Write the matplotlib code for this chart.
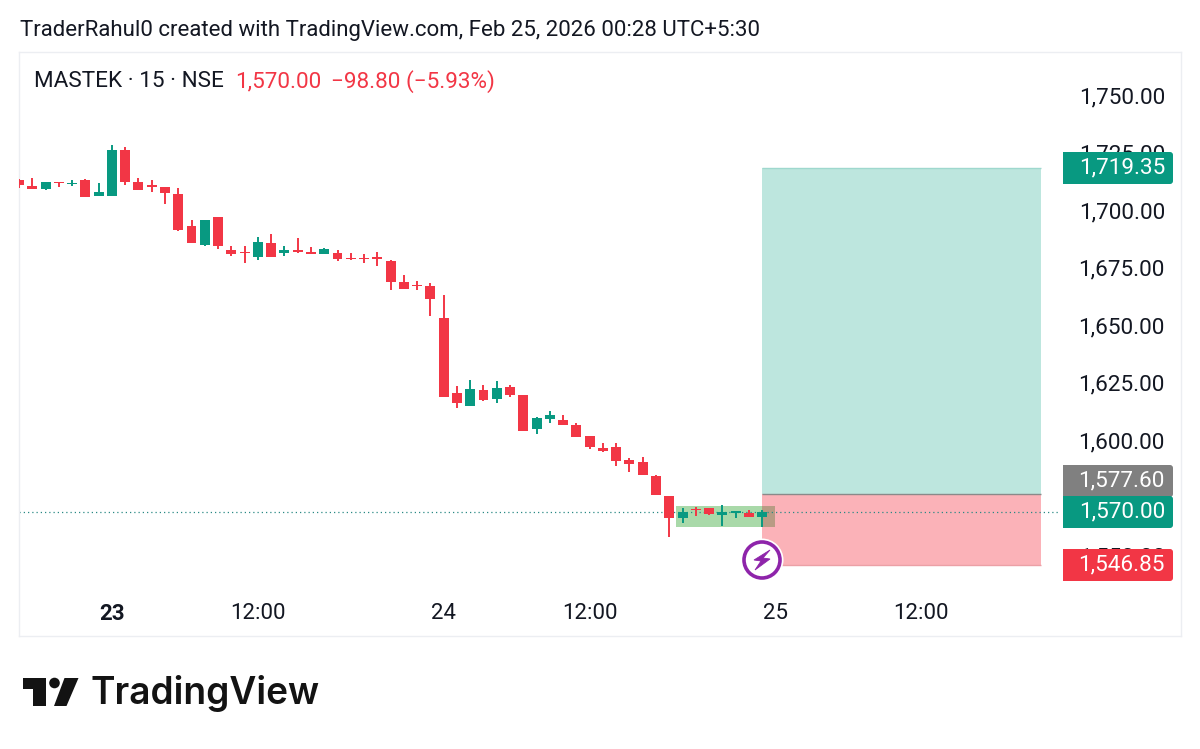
import matplotlib
matplotlib.use("Agg")
import matplotlib.pyplot as plt
from matplotlib.patches import Rectangle, FancyBboxPatch, Polygon, Circle

plt.rcParams['font.family'] = ['Roboto', 'DejaVu Sans']

# candles, index 0 is the first bar of the 23rd
bar_idx = list(range(-7, 50))
opens = [1714.0, 1711.4, 1710.4, 1713.5, 1712.3, 1714.0, 1707.1, 1707.1, 1727.1, 1713.5,
         1711.9, 1711.2, 1708.1, 1694.3, 1685.8, 1698.1, 1683.9, 1682.7, 1680.9, 1687.0,
         1682.3, 1683.9, 1683.0, 1682.2, 1682.6, 1680.4, 1680.4, 1680.6, 1679.0, 1670.0,
         1668.6, 1668.0, 1654.2, 1621.7, 1616.1, 1623.0, 1619.0, 1624.3, 1620.6, 1606.1,
         1610.4, 1610.0, 1607.8, 1602.9, 1597.8, 1598.1, 1592.6, 1591.6, 1585.8, 1577.1,
         1567.4, 1571.4, 1571.7, 1568.6, 1569.7, 1569.3, 1567.7]
highs = [1714.7, 1714.9, 1713.2, 1713.5, 1714.0, 1714.5, 1713.0, 1729.3, 1728.6, 1715.2,
         1714.2, 1711.2, 1710.9, 1696.7, 1697.0, 1698.1, 1685.5, 1685.5, 1689.4, 1690.7,
         1685.3, 1688.8, 1685.1, 1684.7, 1683.6, 1682.6, 1682.2, 1682.9, 1679.4, 1672.7,
         1670.1, 1669.4, 1664.3, 1624.8, 1627.1, 1625.2, 1626.8, 1625.2, 1620.6, 1611.2,
         1613.8, 1612.0, 1608.6, 1602.9, 1600.1, 1600.1, 1593.2, 1593.8, 1586.1, 1577.1,
         1571.7, 1572.2, 1571.7, 1573.0, 1570.3, 1570.7, 1570.9]
lows = [1710.9, 1710.4, 1710.0, 1711.0, 1711.6, 1706.8, 1707.1, 1707.1, 1712.0, 1709.9,
        1708.8, 1703.6, 1691.9, 1686.7, 1685.5, 1684.0, 1681.3, 1678.1, 1679.3, 1680.9,
        1681.3, 1682.5, 1682.2, 1681.9, 1679.1, 1679.3, 1678.0, 1677.0, 1666.2, 1666.7,
        1666.2, 1655.1, 1619.9, 1615.1, 1616.1, 1618.0, 1617.3, 1620.1, 1605.2, 1603.9,
        1608.8, 1607.7, 1602.7, 1597.3, 1596.2, 1589.9, 1587.3, 1586.2, 1577.3, 1559.3,
        1565.1, 1568.3, 1568.7, 1563.9, 1567.4, 1567.7, 1563.6]
closes = [1712.2, 1710.4, 1713.2, 1713.0, 1713.0, 1706.8, 1709.1, 1727.4, 1713.5, 1709.9,
          1711.3, 1708.6, 1692.5, 1686.7, 1696.7, 1685.3, 1682.2, 1682.3, 1687.3, 1680.9,
          1683.9, 1682.7, 1682.2, 1684.2, 1680.0, 1680.0, 1679.9, 1680.0, 1669.9, 1666.7,
          1668.0, 1662.6, 1619.9, 1617.4, 1623.3, 1618.7, 1623.9, 1620.7, 1605.2, 1610.7,
          1612.2, 1607.7, 1602.7, 1598.4, 1596.5, 1592.2, 1590.6, 1586.2, 1577.3, 1567.4,
          1570.0, 1570.9, 1569.1, 1570.1, 1570.3, 1567.7, 1570.1]

y_ticks = [1750, 1725, 1700, 1675, 1650, 1625, 1600, 1575, 1550]
x_tick_pos = [0, 11, 25, 36, 50, 61]
x_tick_labels = ['23', '12:00', '24', '12:00', '25', '12:00']

last_price = 1570.00
target_price = 1719.35
entry_price = 1577.60
stop_price = 1546.85
box_start, box_end = 49, 70
zone_start, zone_end = 42.5, 50
zone_top, zone_bottom = 1572.6, 1563.5

RED = '#f23645'
GREEN = '#089981'
DARK = '#131722'

fig = plt.figure(figsize=(12, 7.49), dpi=100, facecolor='white')
W, H = 1200, 749

# chart panel
ax = fig.add_axes([19 / W, 1 - 635.5 / H, 1162 / W, 584 / H])
ax.set_xlim(-7.0, 80.56)
ax.set_ylim(1516.3, 1770)
for s in ax.spines.values():
    s.set_color('#eceef2')
    s.set_linewidth(1)
ax.set_yticks([])
ax.set_xticks(x_tick_pos)
ax.set_xticklabels(x_tick_labels)
ax.tick_params(axis='x', length=0, direction='in', pad=-23.6, labelsize=16, labelcolor=DARK)
ax.get_xticklabels()[0].set_fontweight('bold')

# long position boxes
ax.add_patch(Rectangle((box_start, entry_price), box_end - box_start, target_price - entry_price,
                       fc='#bde6de', ec='none', zorder=1))
ax.add_patch(Rectangle((box_start, stop_price), box_end - box_start, entry_price - stop_price,
                       fc='#fbb2b8', ec='none', zorder=1))
ax.hlines(target_price, box_start, box_end, color='#9fd8ce', lw=1, zorder=1.2)
ax.hlines(entry_price, box_start, box_end, color='#8a8a8a', lw=1, zorder=1.2)
ax.hlines(stop_price, box_start, box_end, color='#eba0a6', lw=1, zorder=1.2)

# green zone over the last bars
ax.add_patch(Rectangle((zone_start, zone_bottom), box_start - zone_start, zone_top - zone_bottom,
                       fc='#a9d9a9', ec='none', zorder=1.5))
ax.add_patch(Rectangle((box_start, zone_bottom), zone_end - box_start, zone_top - zone_bottom,
                       fc='#b89b84', ec='none', zorder=1.5))

# last price line
ax.hlines(last_price, -7, 71.4, color='#2a8a85', lw=0.9, linestyles=(0, (1, 2.4)), zorder=2)

# candles
for i, o, h, l, c in zip(bar_idx, opens, highs, lows, closes):
    col = GREEN if c >= o else RED
    ax.vlines(i, l, h, color=col, lw=1.4, zorder=3)
    ax.bar(i, max(abs(c - o), 0.4), bottom=min(o, c), width=0.75, color=col, zorder=3.1)

# overlay in pixels for labels, icon and logo
ov = fig.add_axes([0, 0, 1, 1], facecolor='none')
ov.set_xlim(0, W)
ov.set_ylim(H, 0)
ov.axis('off')


def price_px(p):
    return H - ax.transData.transform((0, p))[1]


for t in y_ticks:
    ov.text(1165, price_px(t), f'{t:,.2f}', ha='right', va='center', fontsize=16.2, color=DARK)

price_labels = [(target_price, GREEN), (entry_price, '#808080'), (last_price, GREEN), (stop_price, RED)]
for p, col in price_labels:
    yc = round(price_px(p))
    # the 1,570 and 1,577 labels butt together
    if p == entry_price:
        yc -= 13
    ov.add_patch(FancyBboxPatch((1066, yc - 13), 104, 26, boxstyle='round,pad=3,rounding_size=3',
                                fc=col, ec='none', zorder=5, snap=False))
    ov.add_patch(Rectangle((1063, yc - 16), 20, 32, fc=col, ec='none', zorder=5, snap=False))
    ov.text(1165, yc, f'{p:,.2f}', ha='right', va='center', fontsize=16.2, color='white', zorder=6)

# header text
ov.text(20, 30.5, 'TraderRahul0 created with TradingView.com, Feb 25, 2026 00:28 UTC+5:30',
        fontsize=16.07, color=DARK, va='center')
ov.text(34, 81.5, 'MASTEK · 15 · NSE', fontsize=16.2, color=DARK, va='center')
ov.text(235, 81.5, '1,570.00', fontsize=16.2, color=RED, va='center')
ov.text(331, 81.5, '−98.80 (−5.93%)', fontsize=16.2, color=RED, va='center')

# lightning icon
ov.add_patch(Circle((762, 560), 21.5, fc='white', ec='none', zorder=7))
ov.add_patch(Circle((762, 560), 18, fc='white', ec='#8e24aa', lw=2.6, zorder=7))
ov.add_patch(Polygon([(770, 550), (754, 560), (761, 561), (755, 570), (770, 559), (763, 558)],
                     closed=True, fc='#8e24aa', ec='#8e24aa', lw=0.6, zorder=8))

# TradingView logo
ov.add_patch(Polygon([(23, 678), (46, 678), (46, 706), (33, 706), (33, 689), (23, 689)],
                     closed=True, fc='#131313', ec='none'))
ov.add_patch(Circle((54.5, 683), 5.3, fc='#131313', ec='none'))
ov.add_patch(Polygon([(64.5, 678), (78.5, 678), (66.5, 706), (54, 706)],
                     closed=True, fc='#131313', ec='none'))
ov.text(91, 693.5, 'TradingView', fontsize=26.7, family='Inter', fontweight='semibold',
        color='#131313', va='center')

fig.savefig('out.png', dpi=100)
